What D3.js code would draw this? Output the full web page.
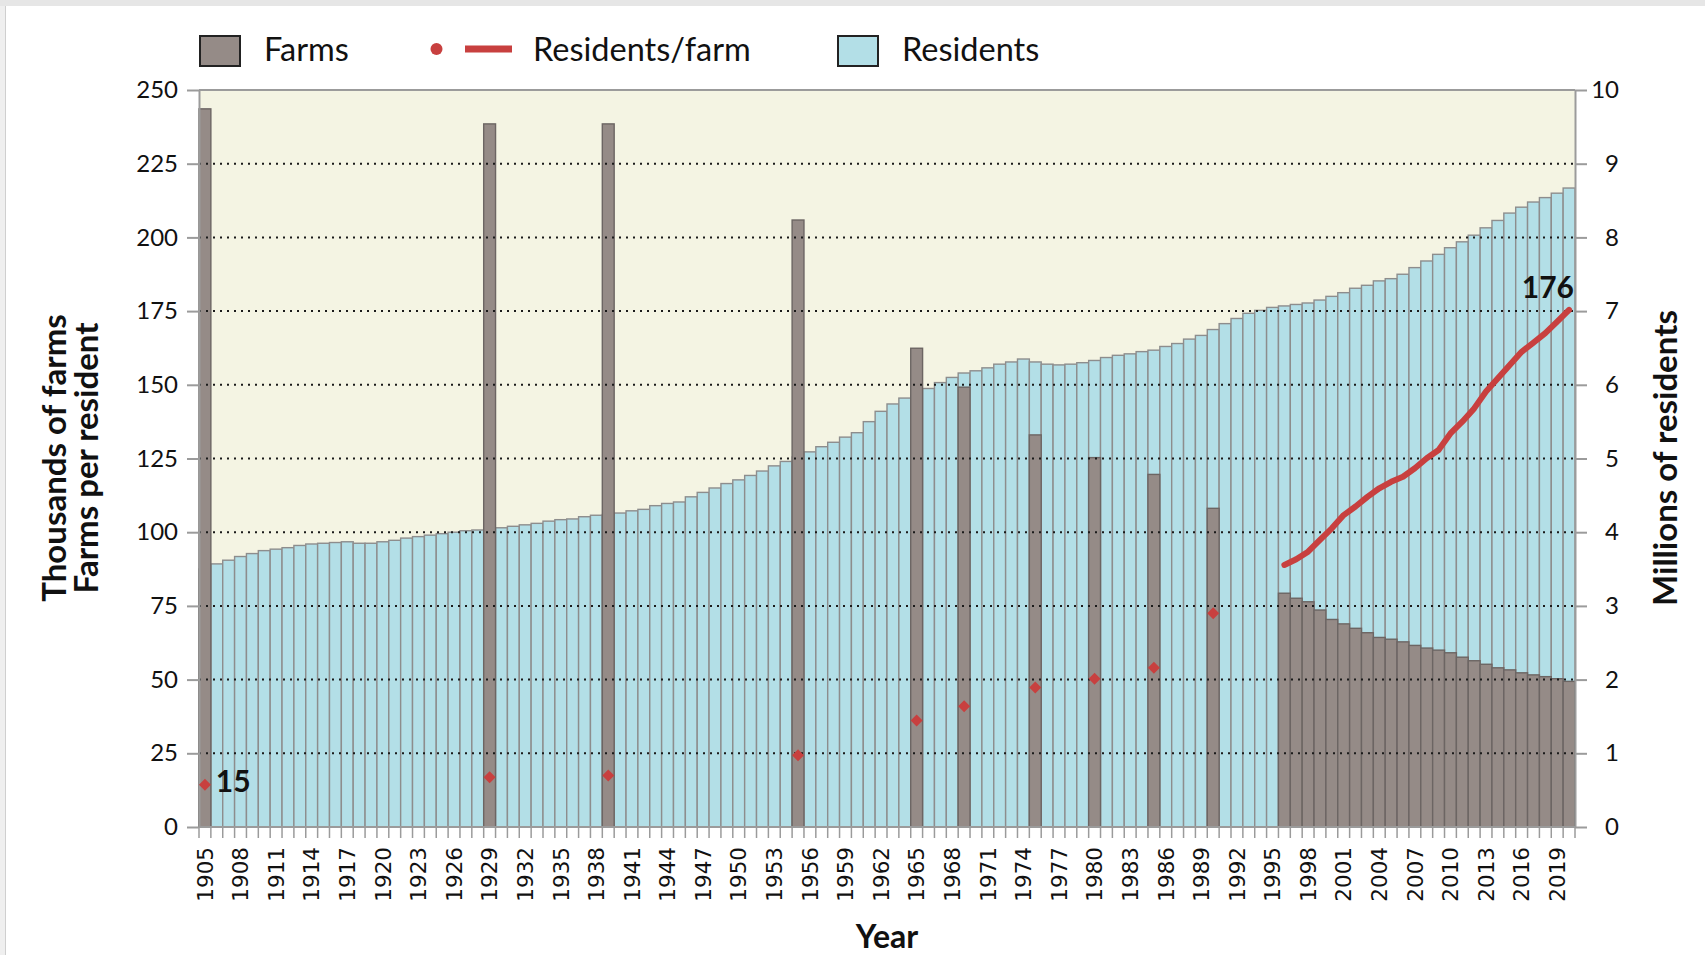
<!DOCTYPE html>
<html>
<head>
<meta charset="utf-8">
<script src="https://cdn.jsdelivr.net/npm/d3@7"></script>
<style>
  body { margin: 0; background: #fff; }
  svg { display: block; }
</style>
</head>
<body>
<div id="chart"></div>
<script>
// ******* DATA *******
// one category per year, 1905 .. 2020
const years = d3.range(1905, 2021);

// residents, millions (right axis), one value per year
const residents = [
  3.50, 3.57, 3.62, 3.67, 3.71,                          // 1905-1909
  3.75, 3.77, 3.79, 3.82, 3.84, 3.85, 3.86, 3.87, 3.85, 3.85, // 1910-1919
  3.87, 3.89, 3.92, 3.94, 3.96, 3.98, 4.00, 4.02, 4.03, 4.05, // 1920-1929
  4.06, 4.08, 4.10, 4.12, 4.15, 4.17, 4.18, 4.21, 4.23, 4.24, // 1930-1939
  4.26, 4.29, 4.31, 4.36, 4.39, 4.41, 4.48, 4.54, 4.60, 4.66, // 1940-1949
  4.71, 4.77, 4.83, 4.90, 4.96, 5.02, 5.09, 5.16, 5.22, 5.29, // 1950-1959
  5.35, 5.50, 5.64, 5.74, 5.82, 5.86, 5.95, 6.03, 6.10, 6.16, // 1960-1969
  6.19, 6.23, 6.28, 6.31, 6.35, 6.31, 6.28, 6.27, 6.28, 6.30, // 1970-1979
  6.33, 6.37, 6.40, 6.42, 6.45, 6.47, 6.52, 6.56, 6.62, 6.67, // 1980-1989
  6.75, 6.83, 6.90, 6.97, 7.01, 7.05, 7.07, 7.09, 7.11, 7.15, // 1990-1999
  7.20, 7.25, 7.31, 7.35, 7.41, 7.44, 7.50, 7.59, 7.68, 7.77, // 2000-2009
  7.86, 7.94, 8.03, 8.13, 8.23, 8.33, 8.41, 8.48, 8.54, 8.60, // 2010-2019
  8.67                                                   // 2020
];

// farms, thousands (left axis) - census years, then yearly from 1996
const farmYears = [1905, 1929, 1939, 1955, 1965, 1969, 1975, 1980, 1985, 1990,
  1996, 1997, 1998, 1999, 2000, 2001, 2002, 2003, 2004, 2005, 2006, 2007, 2008,
  2009, 2010, 2011, 2012, 2013, 2014, 2015, 2016, 2017, 2018, 2019, 2020];
const farms = [243.6, 238.5, 238.5, 205.9, 162.4, 149.2, 133.0, 125.3, 119.6, 108.1,
  79.3, 77.6, 76.4, 73.6, 70.4, 68.9, 67.4, 65.9, 64.3, 63.7, 62.8, 61.6, 60.7,
  60.0, 59.1, 57.6, 56.4, 55.2, 54.0, 53.3, 52.3, 51.6, 51.0, 50.3, 49.4];

// residents per farm - census points (diamonds)
const ratioDotYears = [1905, 1929, 1939, 1955, 1965, 1969, 1975, 1980, 1985, 1990];
const ratioDots = [14.3, 16.9, 17.5, 24.3, 36.1, 41.0, 47.3, 50.3, 54.0, 72.5];

// residents per farm - yearly line
const ratioLineYears = d3.range(1996, 2021);
const ratioLine = [88.9, 90.8, 93.4, 97.4, 101.3, 105.8, 108.7, 112.0, 114.9, 117.1,
  118.8, 121.7, 125.1, 127.9, 133.5, 137.5, 142.0, 147.7, 152.2, 156.7,
  161.2, 164.3, 167.5, 171.4, 175.4];

const leftTicks = d3.range(0, 251, 25);
const rightTicks = d3.range(0, 11, 1);
const legendLabels = ["Farms", "Residents/farm", "Residents"];

// ******* SETUP *******
const W = 1705, H = 955;
const plot = { left: 199, right: 1575, top: 90, bottom: 827 };

const COL = {
  bg: "#f4f4e3",
  resid: "#b3dfe7",
  residStroke: "#8d8d8d",
  farm: "#958b87",
  farmStroke: "#6c6563",
  red: "#c8403f",
  axis: "#9b9b9b"
};
const CAL = "Lato, 'Open Sans', sans-serif";

const svg = d3.select("#chart").append("svg")
  .attr("width", W)
  .attr("height", H);

// screenshot frame
svg.append("rect").attr("x", 0).attr("y", 0).attr("width", W).attr("height", 6).attr("fill", "#e6e6e6");
svg.append("rect").attr("x", 0).attr("y", 6).attr("width", 5).attr("height", H).attr("fill", "#efefef");
svg.append("line").attr("x1", 5.5).attr("x2", 5.5).attr("y1", 6).attr("y2", H)
  .attr("stroke", "#cfcfcf").attr("stroke-width", 1);

const x = d3.scaleBand().domain(years).range([plot.left, plot.right]).padding(0);
const yL = d3.scaleLinear().domain([0, 250]).range([plot.bottom, plot.top]);
const yR = d3.scaleLinear().domain([0, 10]).range([plot.bottom, plot.top]);

// plot background
svg.append("rect")
  .attr("x", plot.left).attr("y", plot.top)
  .attr("width", plot.right - plot.left).attr("height", plot.bottom - plot.top)
  .attr("fill", COL.bg);

// residents bars
svg.append("g").selectAll("rect")
  .data(years.map((yr, i) => ({ yr, v: residents[i] })))
  .join("rect")
  .attr("x", d => x(d.yr))
  .attr("y", d => yR(d.v))
  .attr("width", x.bandwidth())
  .attr("height", d => yR(0) - yR(d.v))
  .attr("fill", COL.resid)
  .attr("stroke", COL.residStroke)
  .attr("stroke-width", 1.4);

// farm bars (on top)
svg.append("g").selectAll("rect")
  .data(farmYears.map((yr, i) => ({ yr, v: farms[i] })))
  .join("rect")
  .attr("x", d => x(d.yr))
  .attr("y", d => yL(d.v))
  .attr("width", x.bandwidth())
  .attr("height", d => yL(0) - yL(d.v))
  .attr("fill", COL.farm)
  .attr("stroke", COL.farmStroke)
  .attr("stroke-width", 1.4);

// dotted gridlines
svg.append("g").selectAll("line")
  .data(leftTicks.filter(t => t > 0 && t < 250))
  .join("line")
  .attr("x1", plot.left).attr("x2", plot.right)
  .attr("y1", d => yL(d)).attr("y2", d => yL(d))
  .attr("stroke", "#1a1a1a")
  .attr("stroke-width", 2)
  .attr("stroke-dasharray", "2,5");

// top and bottom frame lines
[250, 0].forEach(v => {
  svg.append("line")
    .attr("x1", plot.left).attr("x2", plot.right)
    .attr("y1", yL(v)).attr("y2", yL(v))
    .attr("stroke", COL.axis).attr("stroke-width", 2);
});

// left axis
const gL = svg.append("g")
  .attr("transform", `translate(${plot.left},0)`)
  .call(d3.axisLeft(yL).tickValues(leftTicks).tickSize(12).tickSizeOuter(0).tickPadding(9));
gL.select(".domain").attr("stroke", COL.axis).attr("stroke-width", 2);
gL.selectAll(".tick line").attr("stroke", COL.axis).attr("stroke-width", 2);
gL.selectAll(".tick text")
  .attr("font-family", CAL).attr("font-size", 24).attr("fill", "#111");

// right axis
const gR = svg.append("g")
  .attr("transform", `translate(${plot.right},0)`)
  .call(d3.axisRight(yR).tickValues(rightTicks).tickSize(12).tickSizeOuter(0));
gR.select(".domain").attr("stroke", COL.axis).attr("stroke-width", 2);
gR.selectAll(".tick line").attr("stroke", COL.axis).attr("stroke-width", 2);
gR.selectAll(".tick text")
  .attr("text-anchor", "end").attr("x", 44)
  .attr("font-family", CAL).attr("font-size", 24).attr("fill", "#111");

// bottom ticks at category edges
svg.append("g").selectAll("line")
  .data(years.concat([years[years.length - 1] + 1]))
  .join("line")
  .attr("x1", d => d > 2020 ? plot.right : x(d))
  .attr("x2", d => d > 2020 ? plot.right : x(d))
  .attr("y1", plot.bottom).attr("y2", plot.bottom + 11)
  .attr("stroke", COL.axis).attr("stroke-width", 1.5);

// bottom labels every 3rd year
const gX = svg.append("g")
  .attr("transform", `translate(0,${plot.bottom})`)
  .call(d3.axisBottom(x).tickValues(years.filter((d, i) => i % 3 === 0)).tickSize(0));
gX.select(".domain").remove();
gX.selectAll(".tick text")
  .attr("font-family", "'DejaVu Sans', Verdana, sans-serif")
  .attr("font-size", 21.5)
  .attr("fill", "#111")
  .attr("text-anchor", "end")
  .attr("transform", "rotate(-90)")
  .attr("x", -20)
  .attr("y", 0)
  .attr("dy", "0.36em");

// residents/farm line
const line = d3.line()
  .x((d, i) => x(ratioLineYears[i]) + x.bandwidth() / 2)
  .y(d => yL(d));
svg.append("path")
  .datum(ratioLine)
  .attr("d", line)
  .attr("fill", "none")
  .attr("stroke", COL.red)
  .attr("stroke-width", 6)
  .attr("stroke-linejoin", "round")
  .attr("stroke-linecap", "round");

// residents/farm census diamonds
svg.append("g").selectAll("path")
  .data(ratioDotYears.map((yr, i) => ({ yr, v: ratioDots[i] })))
  .join("path")
  .attr("d", d3.symbol(d3.symbolSquare, 72))
  .attr("transform", d => `translate(${x(d.yr) + x.bandwidth() / 2},${yL(d.v)}) rotate(45)`)
  .attr("fill", COL.red);

// value labels
svg.append("text")
  .attr("x", x(1905) + x.bandwidth() + 5).attr("y", yL(ratioDots[0]) + 7)
  .attr("font-family", CAL).attr("font-weight", 700).attr("font-size", 30)
  .attr("fill", "#111")
  .text(Math.round(ratioDots[0] + 0.5));
svg.append("text")
  .attr("x", plot.right - 1).attr("y", yL(ratioLine[ratioLine.length - 1]) - 12)
  .attr("text-anchor", "end")
  .attr("font-family", CAL).attr("font-weight", 700).attr("font-size", 30)
  .attr("fill", "#111")
  .text(Math.round(ratioLine[ratioLine.length - 1] + 0.5));

// axis titles
const title = (tx, ty, rot, size, txt) => svg.append("text")
  .attr("transform", `translate(${tx},${ty}) rotate(${rot})`)
  .attr("text-anchor", "middle")
  .attr("font-family", CAL).attr("font-weight", 700).attr("font-size", size)
  .attr("fill", "#111")
  .text(txt);
title(66, 458, -90, 33, "Thousands of farms");
title(98, 458, -90, 33, "Farms per resident");
title(1677, 458, -90, 33, "Millions of residents");
title(887, 948, 0, 32, "Year");

// ******* LEGEND *******
const lg = svg.append("g").attr("font-family", CAL).attr("font-size", 32.5).attr("fill", "#111");

lg.append("rect").attr("x", 200).attr("y", 36).attr("width", 40).attr("height", 30)
  .attr("fill", COL.farm).attr("stroke", "#222").attr("stroke-width", 2);
lg.append("text").attr("x", 264).attr("y", 61).text(legendLabels[0]);

lg.append("circle").attr("cx", 436.5).attr("cy", 49).attr("r", 6).attr("fill", COL.red);
lg.append("line").attr("x1", 465).attr("x2", 512).attr("y1", 49).attr("y2", 49)
  .attr("stroke", COL.red).attr("stroke-width", 7);
lg.append("text").attr("x", 533).attr("y", 61).text(legendLabels[1]);

lg.append("rect").attr("x", 838).attr("y", 36).attr("width", 40).attr("height", 30)
  .attr("fill", COL.resid).attr("stroke", "#222").attr("stroke-width", 2);
lg.append("text").attr("x", 902).attr("y", 61).text(legendLabels[2]);
</script>
</body>
</html>
